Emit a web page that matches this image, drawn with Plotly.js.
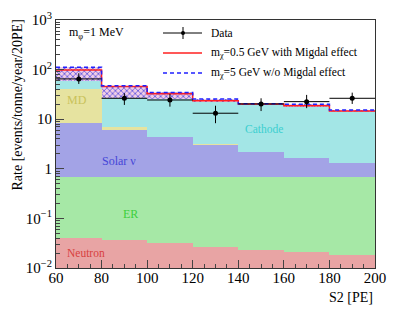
<!DOCTYPE html>
<html><head><meta charset="utf-8">
<script src="https://cdn.plot.ly/plotly-3.0.1.min.js"></script>
<style>body{margin:0;padding:0;background:#fff}#chart{width:399px;height:312px}</style>
</head><body><div id="chart"></div>
<script>
// Bin centres (S2 [PE]), 20 PE wide bins from 60 to 200
var binCenters = [70, 90, 110, 130, 150, 170, 190];
var binEdges = [60, 80, 100, 120, 140, 160, 180, 200];
// Cumulative stacked background levels (top of each stack component)
var neutronTop = [0.041, 0.037, 0.032, 0.027, 0.0235, 0.021, 0.018];
var erTop      = [0.67, 0.67, 0.67, 0.67, 0.67, 0.67, 0.67];
var solarTop   = [8.5, 6.05, 4.3, 3.0, 2.2, 1.62, 1.29];
var mdTop      = [40.7, 6.86, 4.3, 3.1, 2.2, 1.62, 1.33];
var cathodeTop = [60, 26.4, 25.2, 21.9, 19.6, 18.0, 14.3];
// Background + signal totals
var sigMigdal  = [98.6, 45.4, 32.6, 23.6, 20.3, 18.7, 14.6];  // m_chi=0.5 GeV with Migdal
var sigNoMigdal= [112, 47.5, 34.6, 25.6, 20.6, 20.0, 15.3];   // m_chi=5 GeV w/o Migdal
// Data
var dataY      = [64.9, 26.4, 24.4, 13.2, 20.3, 22.6, 26.4];
var dataErrUp  = [19.6, 7.0, 7.7, 5.5, 6.1, 8.3, 7.9];
var dataErrDn  = [13.5, 7.0, 6.5, 4.9, 5.7, 5.9, 6.1];

function stepY(v){ return v.concat([v[v.length-1]]); }
var widths = binCenters.map(function(){return 20;});

var cols = {neutron:'#e8a4a4', er:'#a6e8a6', solar:'#a3a3e6', md:'#e6e3a0', cathode:'#a3e6e6'};
function bg(y, c, name){
  return {type:'bar', x:binCenters, y:y, width:widths, name:name,
    marker:{color:c, line:{width:0}}, hoverinfo:'skip', showlegend:false};
}
var hatchLen = sigNoMigdal.map(function(v,i){return v - cathodeTop[i];});
var traces = [
  bg(cathodeTop, cols.cathode, 'Cathode'),
  bg(mdTop, cols.md, 'MD'),
  bg(solarTop, cols.solar, 'Solar ν'),
  bg(erTop, cols.er, 'ER'),
  bg(neutronTop, cols.neutron, 'Neutron'),
  {type:'bar', x:binCenters, y:hatchLen, base:cathodeTop, width:widths,
   marker:{color:'rgba(0,0,0,0)', line:{width:0},
     pattern:{shape:'x', fgcolor:'#6a5ee0', bgcolor:'#f0cde6', size:4, solidity:0.4}},
   hoverinfo:'skip', showlegend:false},
  {type:'scatter', mode:'lines', x:binEdges, y:stepY(sigMigdal),
   line:{shape:'hv', color:'#ff2020', width:1.5}, showlegend:false},
  {type:'scatter', mode:'lines', x:binEdges, y:stepY(sigNoMigdal),
   line:{shape:'hv', color:'#2020ff', width:1.5, dash:'4px,3px'}, showlegend:false},
  {type:'scatter', mode:'markers', x:binCenters, y:dataY,
   marker:{color:'black', size:5},
   error_y:{type:'data', symmetric:false, array:dataErrUp, arrayminus:dataErrDn, width:0, thickness:1, color:'black'},
   error_x:{type:'constant', value:10, width:0, thickness:1, color:'black'},
   showlegend:false}
];

var yTickVals = [0.01, 0.1, 1, 10, 100, 1000];
var yTickText = ['10<sup>−2</sup>', '10<sup>−1</sup>', '1', '10', '10<sup>2</sup>', '10<sup>3</sup>'];
var xTickVals = [60, 80, 100, 120, 140, 160, 180, 200];
var yMinor = [];
for (var d=-2; d<3; d++){ for (var k=2;k<10;k++){ yMinor.push(k*Math.pow(10,d)); } }

var F = '"Liberation Serif", serif';
function px2paperX(p){ return (p-56)/319; }
function px2paperY(p){ return (268-p)/248; }

var layout = {
  width:399, height:312,
  margin:{l:56, r:24, t:20, b:44},
  paper_bgcolor:'white', plot_bgcolor:'white',
  barmode:'overlay', bargap:0,
  font:{family:F, size:14, color:'black'},
  xaxis:{range:[60,200], tickvals:xTickVals, ticks:'inside', ticklen:8, tickwidth:1,
    showline:true, linecolor:'#333', linewidth:1, mirror:true, showgrid:false, zeroline:false,
    minor:{dtick:5, ticks:'inside', ticklen:4, tickwidth:1, showgrid:false},
    tickfont:{family:F, size:15}, ticklabelstandoff:-4},
  yaxis:{type:'log', range:[-2,3], tickvals:yTickVals, ticktext:yTickText, ticks:'inside', ticklen:8, tickwidth:1,
    showline:true, linecolor:'#333', linewidth:1, mirror:true, showgrid:false, zeroline:false,
    minor:{tickvals:yMinor, ticks:'inside', ticklen:4, tickwidth:1, showgrid:false},
    tickfont:{family:F, size:15}},
  annotations:[
    {xref:'paper', yref:'paper', x:px2paperX(17), y:px2paperY(18), xanchor:'center', yanchor:'top',
     text:'Rate [events/tonne/year/20PE]', textangle:-90, showarrow:false, font:{family:F, size:14}},
    {xref:'paper', yref:'paper', x:px2paperX(375), y:px2paperY(288), xanchor:'right', yanchor:'top',
     text:'S2 [PE]', showarrow:false, font:{family:F, size:14}},
    {xref:'paper', yref:'paper', x:px2paperX(67), y:px2paperY(33), xanchor:'left', yanchor:'middle',
     text:'m<sub>φ</sub>=1 MeV', showarrow:false, font:{family:F, size:12}},
    {xref:'x', yref:'y', x:69, y:Math.log10(24.5), text:'MD', showarrow:false, font:{family:F, size:12, color:'#c9c25a'}},
    {xref:'x', yref:'y', x:151.5, y:0.796, text:'Cathode', showarrow:false, font:{family:F, size:11.5, color:'#3ccfd0'}},
    {xref:'x', yref:'y', x:87.5, y:0.162, text:'Solar ν', showarrow:false, font:{family:F, size:12, color:'#4646d8'}},
    {xref:'x', yref:'y', x:92.5, y:-0.921, text:'ER', showarrow:false, font:{family:F, size:12, color:'#3ccf3c'}},
    {xref:'x', yref:'y', x:73, y:-1.697, text:'Neutron', showarrow:false, font:{family:F, size:11.5, color:'#d84040'}},
    {xref:'paper', yref:'paper', x:px2paperX(209), y:px2paperY(33), xanchor:'left', yanchor:'middle',
     text:'Data', showarrow:false, font:{family:F, size:11.5}},
    {xref:'paper', yref:'paper', x:px2paperX(209), y:px2paperY(53), xanchor:'left', yanchor:'middle',
     text:'m<sub>χ</sub>=0.5 GeV with Migdal effect', showarrow:false, font:{family:F, size:11.5}},
    {xref:'paper', yref:'paper', x:px2paperX(209), y:px2paperY(73), xanchor:'left', yanchor:'middle',
     text:'m<sub>χ</sub>=5 GeV w/o Migdal effect', showarrow:false, font:{family:F, size:11.5}}
  ],
  shapes:[
    {type:'line', xref:'paper', yref:'paper', x0:px2paperX(163), x1:px2paperX(202), y0:px2paperY(33), y1:px2paperY(33), line:{color:'black', width:1}},
    {type:'line', xref:'paper', yref:'paper', x0:px2paperX(183), x1:px2paperX(183), y0:px2paperY(27), y1:px2paperY(39), line:{color:'black', width:1}},
    {type:'circle', xref:'paper', yref:'paper', x0:px2paperX(181), x1:px2paperX(185), y0:px2paperY(31), y1:px2paperY(35), fillcolor:'black', line:{color:'black', width:0}},
    {type:'line', xref:'paper', yref:'paper', x0:px2paperX(163), x1:px2paperX(202), y0:px2paperY(53), y1:px2paperY(53), line:{color:'#ff2020', width:1.5}},
    {type:'line', xref:'paper', yref:'paper', x0:px2paperX(163), x1:px2paperX(202), y0:px2paperY(73), y1:px2paperY(73), line:{color:'#2020ff', width:1.5, dash:'4px,3px'}}
  ]
};
Plotly.newPlot('chart', traces, layout, {displayModeBar:false, staticPlot:true});
</script></body></html>
